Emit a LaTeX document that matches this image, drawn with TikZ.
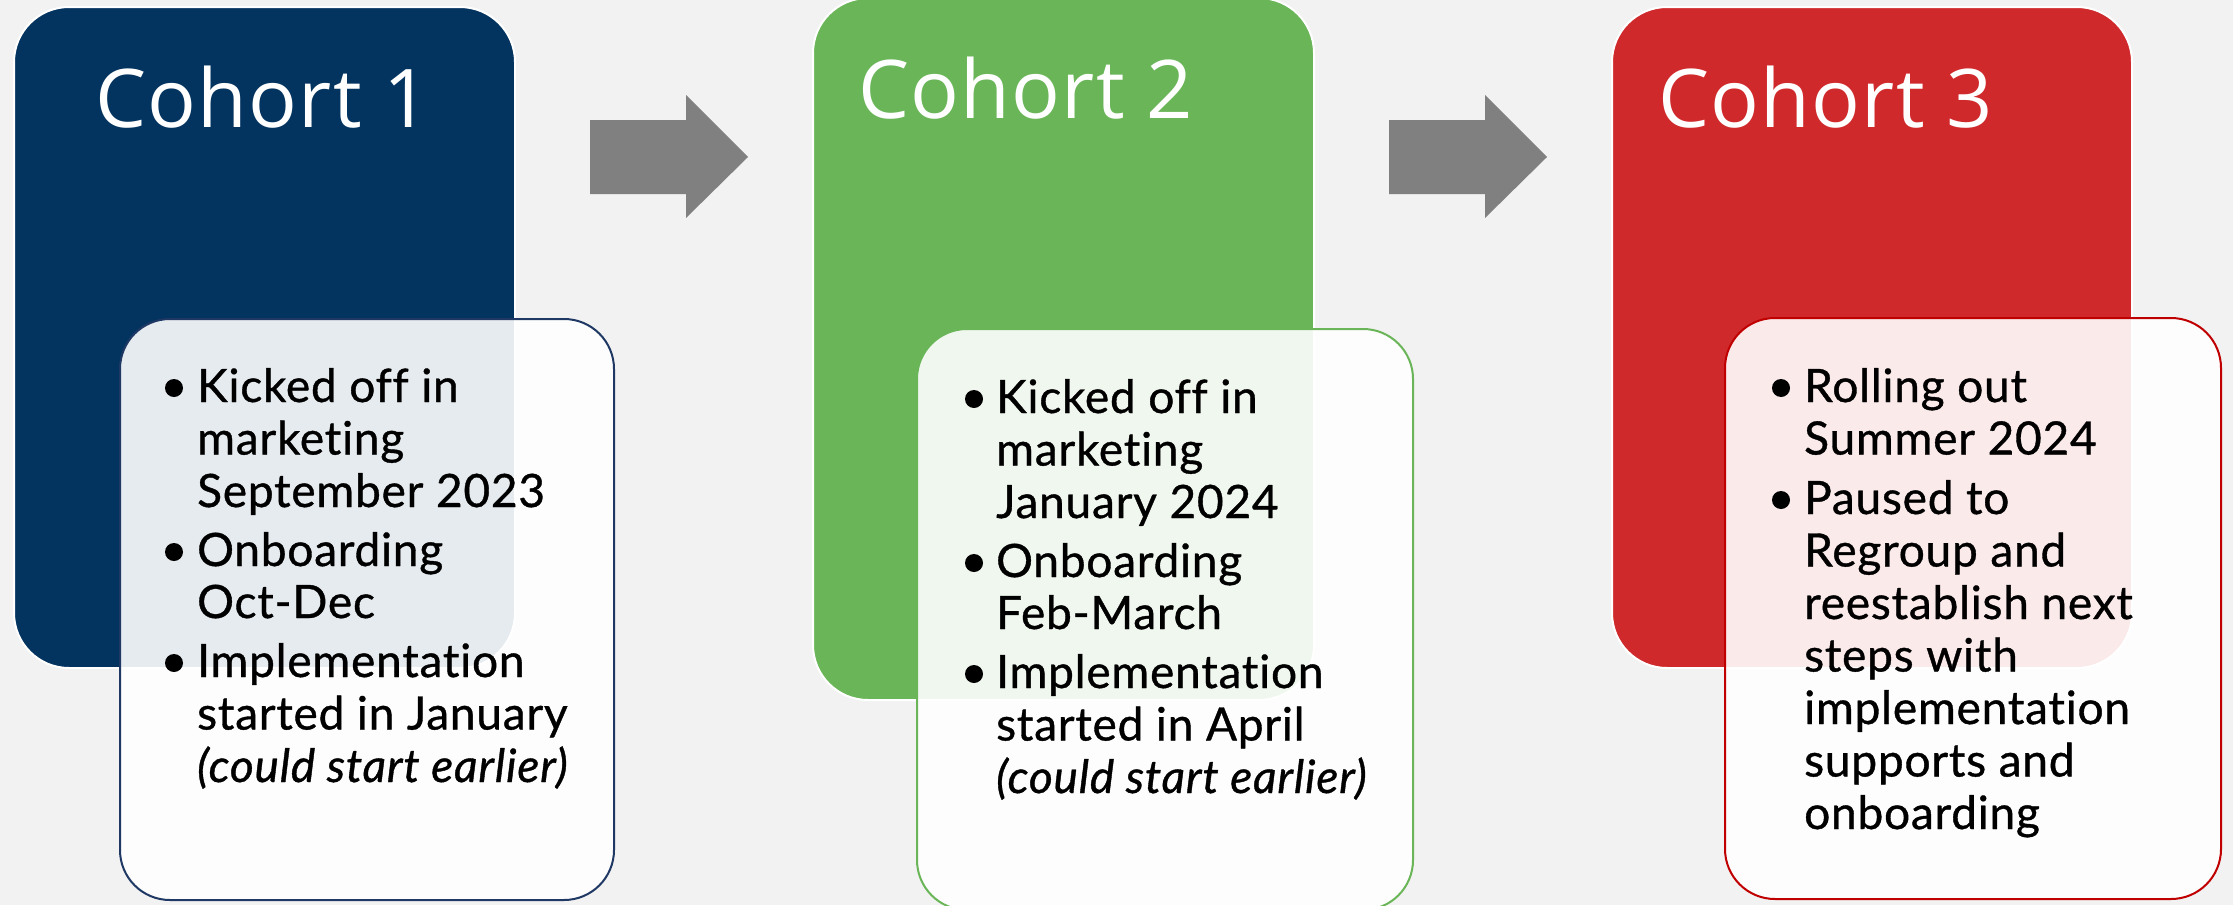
\documentclass[tikz,border=0pt]{standalone}
\usepackage{fontspec}
\setmainfont[Ligatures=NoCommon,FakeBold=0.8,LetterSpace=1.7]{Lato}
\newfontfamily\titlefont[LetterSpace=1.5]{Open Sans}
\definecolor{bgc}{HTML}{F2F2F2}
\definecolor{c1}{HTML}{03335F}
\definecolor{c1b}{HTML}{1F3864}
\definecolor{c2}{HTML}{6AB558}
\definecolor{c3}{HTML}{D0292B}
\definecolor{c3b}{HTML}{C00000}
\definecolor{arr}{HTML}{808080}
\tikzset{
  cohortbox/.style={rectangle, rounded corners=55pt, draw=white, line width=2pt, anchor=north west, inner sep=0pt, outer sep=0pt},
  infobox/.style={rectangle, rounded corners=50pt, fill=white, fill opacity=0.9, line width=2pt, anchor=north west, inner sep=0pt, outer sep=0pt},
  title/.style={anchor=base west, inner sep=0pt, text=white, font=\titlefont\fontsize{81}{96}\selectfont},
  line/.style={anchor=base west, inner sep=0pt, font=\fontsize{46}{52}\selectfont},
  bul/.style={circle, fill=black, minimum size=18pt, inner sep=0pt},
  blockarrow/.style={fill=arr, draw=none}
}
\begin{document}
\begin{tikzpicture}[x=1pt,y=-1pt]
\fill[bgc] (0,0) rectangle (2233,905);
\useasboundingbox (0,0) rectangle (2233,905);
% Cohort 1
\node[cohortbox, fill=c1, minimum width=501pt, minimum height=661pt] (b1) at (14,7) {};
\node[title] (t1) at (95,127) {Cohort 1};
\node[infobox, draw=c1b, minimum width=494pt, minimum height=581pt] (w1) at (120,319) {};
\node[bul] (p11) at (174,388) {};
\node[line] (l11) at (197,402) {Kicked off in};
\node[line] (l12) at (197,454.5) {marketing};
\node[line] (l13) at (197,507) {September 2023};
\node[bul] (p12) at (174,552) {};
\node[line] (l14) at (197,566) {Onboarding};
\node[line] (l15) at (197,618) {Oct-Dec};
\node[bul] (p13) at (174,663) {};
\node[line] (l16) at (197,677) {Implementation};
\node[line] (l17) at (197,729.5) {started in January};
\node[line] (l18) at (197,782) {\itshape (could start earlier)};
% Arrow 1
\fill[blockarrow] (590,120) -- (686,120) -- (686,95) -- (748,157) -- (686,218) -- (686,194) -- (590,194) -- cycle;
% Cohort 2
\node[cohortbox, fill=c2, minimum width=501pt, minimum height=702pt] (b2) at (813,-2) {};
\node[title] (t2) at (858,118) {Cohort 2};
\node[infobox, draw=c2, minimum width=496pt, minimum height=581pt] (w2) at (917,329) {};
\node[bul] (p21) at (974,399) {};
\node[line] (l21) at (996,413) {Kicked off in};
\node[line] (l22) at (996,465.5) {marketing};
\node[line] (l23) at (996,518) {January 2024};
\node[bul] (p22) at (974,563) {};
\node[line] (l24) at (996,577) {Onboarding};
\node[line] (l25) at (996,629) {Feb-March};
\node[bul] (p23) at (974,674) {};
\node[line] (l26) at (996,688) {Implementation};
\node[line] (l27) at (996,740.5) {started in April};
\node[line] (l28) at (996,793) {\itshape (could start earlier)};
% Arrow 2
\fill[blockarrow] (1389,120) -- (1485,120) -- (1485,95) -- (1547,157) -- (1485,218) -- (1485,194) -- (1389,194) -- cycle;
% Cohort 3
\node[cohortbox, fill=c3, minimum width=520pt, minimum height=661pt] (b3) at (1612,7) {};
\node[title] (t3) at (1658,127) {Cohort 3};
\node[infobox, draw=c3b, minimum width=496pt, minimum height=581pt] (w3) at (1725,318) {};
\node[bul] (p31) at (1781,388) {};
\node[line] (l31) at (1804,402) {Rolling out};
\node[line] (l32) at (1804,454.5) {Summer 2024};
\node[bul] (p32) at (1781,500) {};
\node[line] (l33) at (1804,514) {Paused to};
\node[line] (l34) at (1804,566.5) {Regroup and};
\node[line] (l35) at (1804,619) {reestablish next};
\node[line] (l36) at (1804,671.5) {steps with};
\node[line] (l37) at (1804,724) {implementation};
\node[line] (l38) at (1804,776.5) {supports and};
\node[line] (l39) at (1804,829) {onboarding};
\end{tikzpicture}
\end{document}
